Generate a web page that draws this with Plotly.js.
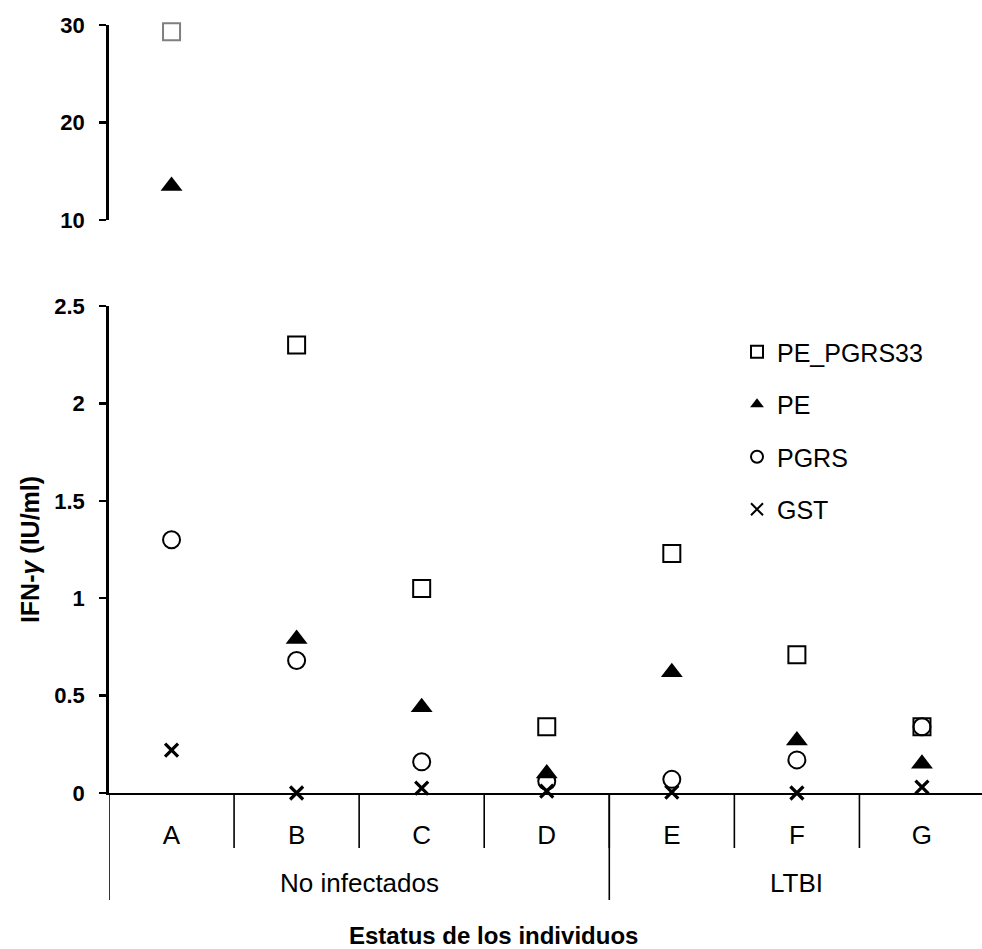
<!DOCTYPE html>
<html>
<head>
<meta charset="utf-8">
<script src="https://cdn.plot.ly/plotly-3.0.1.min.js"></script>
<style>html,body{margin:0;padding:0;background:#fff;}#chart{width:982px;height:949px;}</style>
</head>
<body>
<div id="chart"></div>
<script>
// ---- data ----
var categories = ["A", "B", "C", "D", "E", "F", "G"];
var groupNames = ["No infectados", "LTBI"];
var groupMembers = [["A", "B", "C", "D"], ["E", "F", "G"]];
var seriesNames = ["PE_PGRS33", "PE", "PGRS", "GST"];
var pe_pgrs33 = [29.3, 2.30, 1.05, 0.34, 1.23, 0.71, 0.34];
var pe = [13.5, 0.79, 0.44, 0.10, 0.62, 0.27, 0.15];
var pgrs = [1.30, 0.68, 0.16, 0.06, 0.07, 0.17, 0.34];
var gst = [0.22, 0.00, 0.025, 0.01, 0.005, 0.00, 0.03];
var lowerTicks = [0, 0.5, 1, 1.5, 2, 2.5];
var upperTicks = [10, 20, 30];
var breakAt = 2.5;

// ---- styles ----
var FONT = "Liberation Sans, Arial, sans-serif";
var styles = [
  {symbol: "square-open", size: 17, color: "#000", lw: 2},
  {symbol: "triangle-up", size: 19, color: "#000", lw: 0},
  {symbol: "circle-open", size: 17, color: "#000", lw: 2},
  {symbol: "x-thin", size: 13, color: "#000", lw: 3.2}
];
var allSeries = [pe_pgrs33, pe, pgrs, gst];

function split(vals, low) {
  return vals.map(function (v) { return (low ? v <= breakAt : v > breakAt) ? v : null; });
}

var traces = [];
allSeries.forEach(function (vals, i) {
  var s = styles[i];
  traces.push({
    type: "scatter", mode: "markers", name: seriesNames[i],
    x: categories, y: split(vals, true), xaxis: "x", yaxis: "y",
    cliponaxis: false, legendgroup: "g" + i,
    marker: {symbol: s.symbol, size: s.size, color: s.color, line: {color: s.color, width: s.lw}}
  });
});
allSeries.forEach(function (vals, i) {
  var s = styles[i];
  var hi = split(vals, false);
  if (hi.every(function (v) { return v === null; })) return;
  traces.push({
    type: "scatter", mode: "markers", name: seriesNames[i], showlegend: false,
    x: categories, y: hi, xaxis: "x", yaxis: "y2",
    cliponaxis: false, legendgroup: "g" + i,
    marker: {symbol: s.symbol, size: s.size, color: i === 0 ? "#7f7f7f" : s.color,
             line: {color: i === 0 ? "#7f7f7f" : s.color, width: s.lw}}
  });
});

// ---- layout geometry ----
var W = 982, H = 949, mL = 109, mT = 25, mB = 156;
var plotH = H - mT - mB; // 768
function py(pix) { return (H - mB - pix) / plotH; } // pixel y -> paper
var shapes = [];
for (var k = 1; k < categories.length; k++) {
  shapes.push({type: "line", xref: "x", yref: "paper", x0: k - 0.5, x1: k - 0.5,
    y0: 0, y1: py(848), line: {color: "#000", width: 1.6}});
}
var gStart = 0;
var annotations = [];
groupMembers.forEach(function (m, gi) {
  shapes.push({type: "line", xref: "x", yref: "paper", x0: gStart - 0.5, x1: gStart - 0.5,
    y0: 0, y1: py(900), line: {color: "#000", width: 1.6}});
  annotations.push({xref: "x", yref: "paper", x: gStart + (m.length - 1) / 2, y: py(883),
    text: groupNames[gi], showarrow: false, yanchor: "middle",
    font: {family: FONT, size: 26, color: "#000"}});
  gStart += m.length;
});
annotations.push({xref: "paper", yref: "paper", x: (493 - mL) / (W - mL), y: py(935),
  text: "<b>Estatus de los individuos</b>", showarrow: false, yanchor: "middle",
  font: {family: FONT, size: 24, color: "#000"}});

var layout = {
  width: W, height: H,
  margin: {l: mL, r: 0, t: mT, b: mB, pad: 0},
  paper_bgcolor: "#fff", plot_bgcolor: "#fff",
  font: {family: FONT, color: "#000"},
  showlegend: true,
  legend: {x: (737 - mL) / (W - mL), y: py(329), xanchor: "left", yanchor: "top",
    font: {family: FONT, size: 25, color: "#000"}, tracegroupgap: 17,
    bgcolor: "rgba(0,0,0,0)", itemsizing: "constant"},
  xaxis: {type: "category", range: [-0.5, 6.48], showgrid: false, zeroline: false,
    showline: true, linecolor: "#000", linewidth: 2, ticks: "",
    tickfont: {family: FONT, size: 26, color: "#000"}, ticklabelstandoff: 18,
    anchor: "y"},
  yaxis: {domain: [0, py(306)], range: [0, 2.5], tickvals: lowerTicks,
    ticktext: lowerTicks.map(String), showgrid: false, zeroline: false,
    showline: true, linecolor: "#000", linewidth: 2.8, ticks: "outside", ticklen: 7,
    tickwidth: 2.5, tickcolor: "#000", ticklabelstandoff: 10,
    tickfont: {family: FONT, size: 22, color: "#000", weight: "bold"},
    title: {text: "<b>IFN-<i>γ</i> (IU/ml)</b>", standoff: 8,
      font: {family: FONT, size: 25, color: "#000"}},
    anchor: "x"},
  yaxis2: {domain: [py(220), 1], range: [10, 30], tickvals: upperTicks,
    showgrid: false, zeroline: false,
    showline: true, linecolor: "#000", linewidth: 2.8, ticks: "outside", ticklen: 7,
    tickwidth: 2.5, tickcolor: "#000", ticklabelstandoff: 10,
    tickfont: {family: FONT, size: 22, color: "#000", weight: "bold"},
    anchor: "x"},
  shapes: shapes,
  annotations: annotations
};

Plotly.newPlot("chart", traces, layout, {displayModeBar: false, staticPlot: true});
</script>
</body>
</html>
